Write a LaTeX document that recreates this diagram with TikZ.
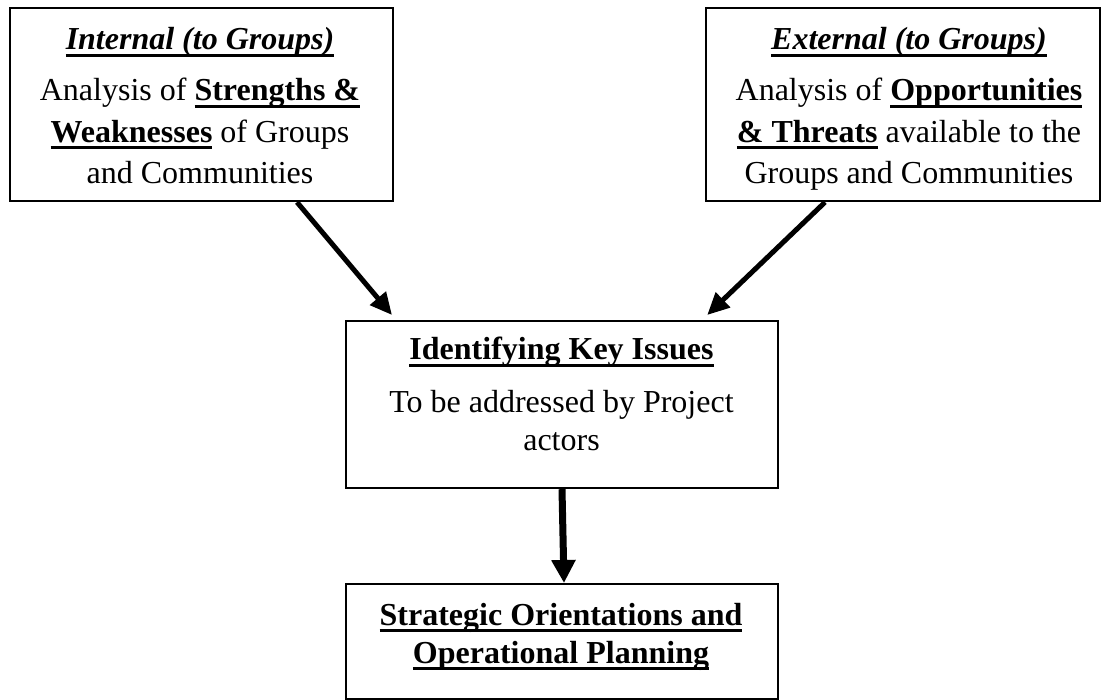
\documentclass[tikz,border=0pt]{standalone}
\usepackage{fontspec}
\setmainfont{Liberation Serif}
\usetikzlibrary{arrows.meta}
\newlength\ulwd
\newcommand\ulx[1]{\settowidth\ulwd{#1}\rlap{\rule[-7pt]{\ulwd}{3pt}}#1}
\begin{document}
\begin{tikzpicture}[x=1pt,y=-1pt,
  box/.style={draw, line width=2.2pt, inner sep=0pt, anchor=north west},
  txt/.style={inner sep=0pt, align=center, anchor=base},
  wide/.style={font=\fontsize{32}{41.5}\selectfont},
  tight/.style={font=\fontsize{32}{38}\selectfont},
  arr/.style={line width=5pt, -{Triangle[length=22pt,width=20pt]}},
  bigarr/.style={line width=7pt, -{Triangle[length=23pt,width=23pt]}}]
\useasboundingbox (0,0) rectangle (1103,700);
\fill[white] (0,0) rectangle (1103,700);
% boxes
\node[box, minimum width=383pt, minimum height=193pt] (b1) at (9,7) {};
\node[box, minimum width=394pt, minimum height=193pt] (b2) at (705,7) {};
\node[box, minimum width=432pt, minimum height=167pt] (b3) at (345,320) {};
\node[box, minimum width=432pt, minimum height=115pt] (b4) at (345,583) {};
% texts (base anchor = baseline of the last line)
\node[txt, wide] (t1a) at (200,50) {\ulx{\textbf{\textit{Internal (to Groups)}}}};
\node[txt, wide] (t1b) at (200,184) {Analysis of \ulx{\textbf{Strengths \&}}\\\ulx{\textbf{Weaknesses}} of Groups\\and Communities};
\node[txt, wide] (t2a) at (909,50) {\ulx{\textbf{\textit{External (to Groups)}}}};
\node[txt, wide] (t2b) at (909,184) {Analysis of \ulx{\textbf{Opportunities}}\\\ulx{\textbf{\& Threats}} available to the\\Groups and Communities};
\node[txt, tight] (t3a) at (561.5,360) {\ulx{\textbf{Identifying Key Issues}}};
\node[txt, tight] (t3b) at (561.5,450) {To be addressed by Project\\actors};
\node[txt, tight] (t4) at (561,663) {\ulx{\textbf{Strategic Orientations and}}\\\ulx{\textbf{Operational Planning}}};
% arrows
\draw[arr] ([xshift=288pt]b1.south west) -- ([xshift=47pt,yshift=5pt]b3.north west);
\draw[arr] ([xshift=120pt]b2.south west) -- ([xshift=-72pt,yshift=5pt]b3.north east);
\draw[bigarr] ([xshift=217pt]b3.south west) -- ([xshift=219pt]b4.north west);
\end{tikzpicture}
\end{document}
